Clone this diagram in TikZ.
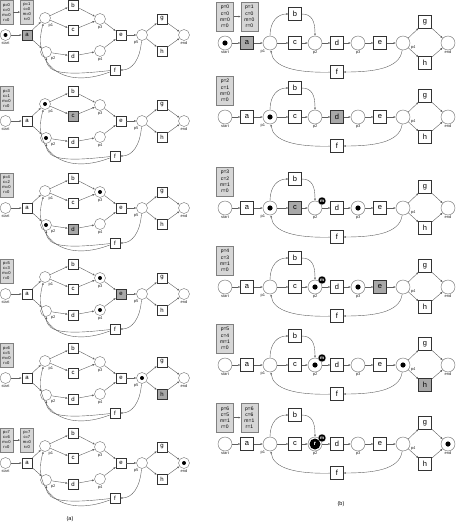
\documentclass[tikz,border=0pt]{standalone}
\usepackage{fontspec}
\setmainfont{Liberation Sans}
\usetikzlibrary{arrows.meta,positioning}

\definecolor{arcgray}{RGB}{95,95,95}
\definecolor{firedgray}{RGB}{168,168,168}
\definecolor{cntgray}{RGB}{214,214,214}

\tikzset{
  hl/.code={\def\tmpname{#1}\ifx\tmpname\firedname\tikzset{fill=firedgray}\fi},
  arc/.style={draw=arcgray, line width=0.4pt, -{Latex[length=2.2pt,width=2pt]}},
  plabel/.style={font=\fontsize{4}{4}\selectfont, inner sep=0.6pt, text=black!85},
  lplace/.style={circle, draw=black!55, fill=white, line width=0.4pt, minimum size=11pt, inner sep=0pt},
  ltrans/.style={draw=black!80, fill=white, line width=0.5pt, minimum size=10pt, inner sep=0pt, font=\fontsize{6}{6}\selectfont},
  rplace/.style={circle, draw=black!55, fill=white, line width=0.45pt, minimum size=14pt, inner sep=0pt},
  rtrans/.style={draw=black!80, fill=white, line width=0.55pt, minimum size=12.5pt, inner sep=0pt, font=\fontsize{7.5}{7.5}\selectfont},
  lcnt/.style={draw=black!50, fill=cntgray, align=center, inner sep=0.5pt, minimum width=13pt, minimum height=24pt, font=\fontsize{4.1}{5}\selectfont},
  rcnt/.style={draw=black!50, fill=cntgray, align=center, inner sep=0.5pt, minimum width=17pt, minimum height=29pt, font=\fontsize{5}{6.2}\selectfont},
  mtok/.style={circle, fill=black, draw=white, line width=0.3pt, text=white, inner sep=0pt, minimum size=8pt, font=\fontsize{4.5}{4.5}\selectfont\bfseries},
  rtok/.style={circle, fill=black, text=white, inner sep=0pt, minimum size=11pt, font=\fontsize{6}{6}\selectfont\bfseries},
  caption/.style={font=\fontsize{5.5}{5.5}\selectfont}
}

% la red de (a): #1 prefijo, #2 altura, #3 transicion disparada
\newcommand{\redA}[3]{%
  \def\firedname{#3}%
  \begin{scope}[shift={(0,#2)}]
    \node[lplace, label={[plabel]below:start}] (#1start) at (5.5,0) {};
    \node[ltrans, hl=a] (#1a) at (27,0) {a};
    \node[lplace, label={[plabel]-60:p1}] (#1p1) at (45,17) {};
    \node[lplace, label={[plabel]-45:p2}] (#1p2) at (46,-17) {};
    \node[ltrans, hl=b] (#1b) at (73,30) {b};
    \node[ltrans, hl=c] (#1c) at (73,5) {c};
    \node[ltrans, hl=d] (#1d) at (73,-21) {d};
    \node[lplace, label={[plabel]below:p3}] (#1p3) at (100,16) {};
    \node[lplace, label={[plabel]below:p4}] (#1p4) at (100,-16) {};
    \node[ltrans, hl=e] (#1e) at (121,0) {e};
    \node[lplace, label={[plabel]-120:p5}] (#1p5) at (142,0) {};
    \node[ltrans, hl=g] (#1g) at (162,16) {g};
    \node[ltrans, hl=h] (#1h) at (162,-16) {h};
    \node[lplace, label={[plabel]below:end}] (#1end) at (184,0) {};
    \node[ltrans, hl=f] (#1f) at (115,-35) {f};
    \draw[arc] (#1start) -- (#1a);
    \draw[arc] (#1a) -- (#1p1);
    \draw[arc] (#1a) -- (#1p2);
    \draw[arc] (#1p1) -- (#1b);
    \draw[arc] (#1p1) -- (#1c);
    \draw[arc] (#1b) -- (#1p3);
    \draw[arc] (#1c) -- (#1p3);
    \draw[arc] (#1p2) -- (#1d);
    \draw[arc] (#1d) -- (#1p4);
    \draw[arc] (#1p3) -- (#1e);
    \draw[arc] (#1p4) -- (#1e);
    \draw[arc] (#1e) -- (#1p5);
    \draw[arc] (#1p5) -- (#1g);
    \draw[arc] (#1p5) -- (#1h);
    \draw[arc] (#1g) -- (#1end);
    \draw[arc] (#1h) -- (#1end);
    % el bucle de f
    \draw[arc] (#1p5) .. controls (140,-25) and (132,-35) .. (#1f);
    \draw[arc] (#1f) .. controls (60,-56) and (32,-26) .. (#1p1);
    \draw[arc] (#1f) .. controls (70,-40) and (47,-40) .. (#1p2);
  \end{scope}}

% la red de (b), con el mismo orden de argumentos
\newcommand{\redB}[3]{%
  \def\firedname{#3}%
  \begin{scope}[shift={(0,#2)}]
    \node[rplace, label={[plabel]below:start}] (#1start) at (225,0) {};
    \node[rtrans, hl=a] (#1a) at (247,0) {a};
    \node[rplace, label={[plabel]-125:p1}] (#1p1) at (270,0) {};
    \node[rtrans, hl=b] (#1b) at (295,29) {b};
    \node[rtrans, hl=c] (#1c) at (295,0) {c};
    \node[rplace, label={[plabel]below:p2}] (#1p2) at (315,0) {};
    \node[rtrans, hl=d] (#1d) at (337,0) {d};
    \node[rplace, label={[plabel]below:p3}] (#1p3) at (358,0) {};
    \node[rtrans, hl=e] (#1e) at (380,0) {e};
    \node[rplace, label={[plabel]-15:p4}] (#1p4) at (403,0) {};
    \node[rtrans, hl=g] (#1g) at (425,21) {g};
    \node[rtrans, hl=h] (#1h) at (425,-20) {h};
    \node[rplace, label={[plabel]below:end}] (#1end) at (448,0) {};
    \node[rtrans, hl=f] (#1f) at (337,-29) {f};
    \draw[arc] (#1start) -- (#1a);
    \draw[arc] (#1a) -- (#1p1);
    \draw[arc] (#1p1) -- (#1c);
    \draw[arc] (#1c) -- (#1p2);
    \draw[arc] (#1p2) -- (#1d);
    \draw[arc] (#1d) -- (#1p3);
    \draw[arc] (#1p3) -- (#1e);
    \draw[arc] (#1e) -- (#1p4);
    \draw[arc] (#1p4) -- (#1g);
    \draw[arc] (#1p4) -- (#1h);
    \draw[arc] (#1g) -- (#1end);
    \draw[arc] (#1h) -- (#1end);
    % el desvio por b y el bucle de f
    \draw[arc] (#1p1) .. controls (270,22) and (278,29) .. (#1b);
    \draw[arc] (#1b) .. controls (312,29) and (315,22) .. (#1p2);
    \draw[arc] (#1p4) .. controls (400,-26) and (372,-29) .. (#1f);
    \draw[arc] (#1f) .. controls (295,-30) and (273,-24) .. (#1p1);
  \end{scope}}

\begin{document}
\begin{tikzpicture}[x=1pt, y=1pt]
  \useasboundingbox (0,-525) rectangle (465,0);

  % columna (a)
  \redA{la1}{-35}{a}
  \fill (la1start) circle (2pt);
  \node[lcnt, above=5pt of la1start, xshift=1pt] (la1k1) {p=0\\c=0\\m=0\\r=0};
  \node[lcnt, right=7pt of la1k1] (la1k2) {p=1\\c=0\\m=0\\r=0};
  \draw[arc] (la1k1) -- (la1k2);

  \redA{la2}{-121}{c}
  \fill (la2p1) circle (2pt);
  \fill (la2p2) circle (2pt);
  \node[lcnt, above=5pt of la2start, xshift=1pt] (la2k1) {p=3\\c=1\\m=0\\r=0};

  \redA{la3}{-208}{d}
  \fill (la3p2) circle (2pt);
  \fill (la3p3) circle (2pt);
  \node[lcnt, above=5pt of la3start, xshift=1pt] (la3k1) {p=4\\c=2\\m=0\\r=0};

  \redA{la4}{-294}{e}
  \fill (la4p3) circle (2pt);
  \fill (la4p4) circle (2pt);
  \node[lcnt, above=5pt of la4start, xshift=1pt] (la4k1) {p=5\\c=3\\m=0\\r=0};

  \redA{la5}{-378}{h}
  \fill (la5p5) circle (2pt);
  \node[lcnt, above=5pt of la5start, xshift=1pt] (la5k1) {p=6\\c=5\\m=0\\r=0};

  \redA{la6}{-463}{}
  \fill (la6end) circle (2pt);
  \node[lcnt, above=5pt of la6start, xshift=1pt] (la6k1) {p=7\\c=6\\m=0\\r=0};
  \node[lcnt, right=7pt of la6k1] (la6k2) {p=7\\c=7\\m=0\\r=0};
  \draw[arc] (la6k1) -- (la6k2);

  \node[caption] (capa) at (70,-519) {(a)};

  % columna (b)
  \redB{rb1}{-43}{a}
  \fill (rb1start) circle (2.6pt);
  \node[rcnt, above=4.5pt of rb1start] (rb1k1) {p=0\\c=0\\m=0\\r=0};
  \node[rcnt, right=7pt of rb1k1] (rb1k2) {p=1\\c=0\\m=0\\r=0};
  \draw[arc] (rb1k1) -- (rb1k2);

  \redB{rb2}{-117}{d}
  \fill (rb2p1) circle (2.6pt);
  \node[rcnt, above=4.5pt of rb2start] (rb2k1) {p=2\\c=1\\m=0\\r=0};

  \redB{rb3}{-208}{c}
  \fill (rb3p1) circle (2.6pt);
  \fill (rb3p3) circle (2.6pt);
  \node[mtok] (rb3m) at ([shift={(7pt,7pt)}]rb3p2.center) {m};
  \node[rcnt, above=4.5pt of rb3start] (rb3k1) {p=3\\c=2\\m=1\\r=0};

  \redB{rb4}{-287}{e}
  \fill (rb4p2) circle (2.6pt);
  \fill (rb4p3) circle (2.6pt);
  \node[mtok] (rb4m) at ([shift={(7pt,7pt)}]rb4p2.center) {m};
  \node[rcnt, above=4.5pt of rb4start] (rb4k1) {p=4\\c=3\\m=1\\r=0};

  \redB{rb5}{-365}{h}
  \fill (rb5p2) circle (2.6pt);
  \fill (rb5p4) circle (2.6pt);
  \node[mtok] (rb5m) at ([shift={(7pt,7pt)}]rb5p2.center) {m};
  \node[rcnt, above=4.5pt of rb5start] (rb5k1) {p=5\\c=4\\m=1\\r=0};

  \redB{rb6}{-444}{}
  \fill (rb6end) circle (2.6pt);
  \node[rtok] (rb6r) at (rb6p2) {r};
  \node[mtok] (rb6m) at ([shift={(7pt,6pt)}]rb6p2.center) {m};
  \node[rcnt, above=4.5pt of rb6start] (rb6k1) {p=6\\c=5\\m=1\\r=0};
  \node[rcnt, right=7pt of rb6k1] (rb6k2) {p=6\\c=6\\m=1\\r=1};
  \draw[arc] (rb6k1) -- (rb6k2);

  \node[caption] (capb) at (341,-504) {(b)};
\end{tikzpicture}
\end{document}
